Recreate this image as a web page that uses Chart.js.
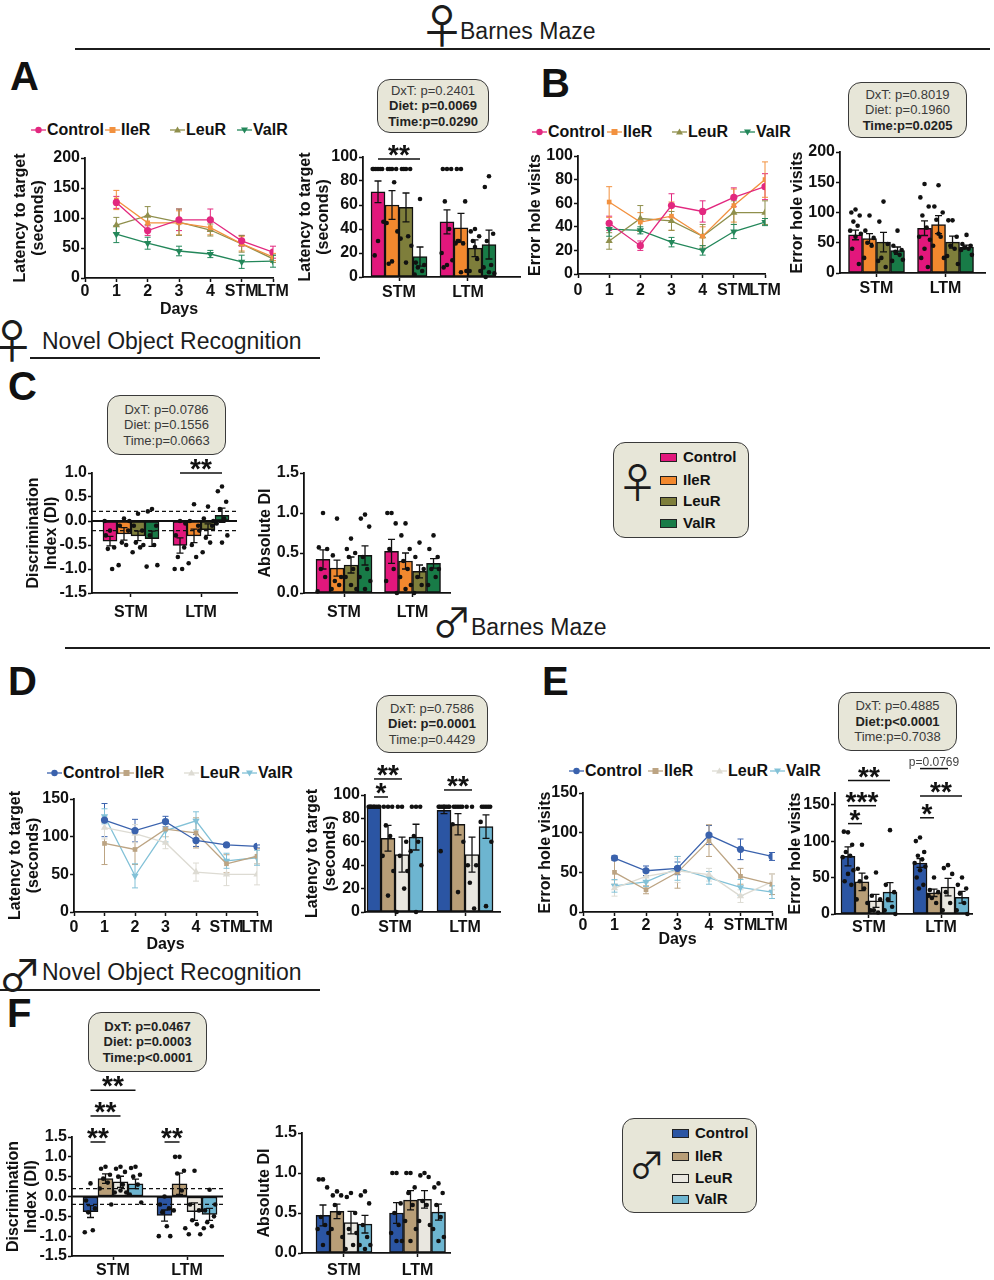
<!DOCTYPE html>
<html lang="en">
<head>
<meta charset="utf-8">
<title>Barnes maze and novel object recognition</title>
<script src="https://cdn.jsdelivr.net/npm/chart.js@4.4.1/dist/chart.umd.min.js"></script>
<style>
  html, body { margin:0; padding:0; background:#fff; }
  body { position:relative; width:994px; height:1280px; overflow:hidden; font-family:'Liberation Sans', Arial, Helvetica, sans-serif; color:#111; }
  canvas { position:absolute; }
  .letter { position:absolute; font-size:40px; font-weight:bold; line-height:40px; color:#111; }
  .hdr { position:absolute; font-size:23px; line-height:23px; white-space:nowrap; color:#1c1c1c; }
  .rule { position:absolute; background:#1c1c1c; }
  .sym { position:absolute; font-family:'Noto Sans CJK JP','DejaVu Sans',sans-serif; line-height:1; color:#1c1c1c; }
  .stat { position:absolute; box-sizing:border-box; border:1.6px solid #3a3a3a; border-radius:13px; background:#e7e6d8; display:flex; flex-direction:column; justify-content:center; align-items:center; font-size:13px; line-height:15.5px; color:#3a3a3a; white-space:nowrap; }
  .stat .b { font-weight:bold; color:#222; }
  .legbox { position:absolute; box-sizing:border-box; border:1.6px solid #3a3a3a; border-radius:12px; background:#e7e6d8; }
  .sw { position:absolute; width:17px; height:9px; border:1.4px solid #222; box-sizing:border-box; }
  .lt { position:absolute; font-size:15px; font-weight:bold; line-height:18px; white-space:nowrap; color:#111; }
  .li { position:absolute; font-size:16px; font-weight:bold; line-height:18px; white-space:nowrap; color:#111; }
  .li svg { position:absolute; }
</style>
</head>
<body>

<!-- section headers -->
<span class="sym" style="left:419px;top:0px;font-size:46px;">♀</span>
<span class="hdr" style="left:460px;top:20px;">Barnes Maze</span>
<div class="rule" style="left:75px;top:48px;width:915px;height:2px;"></div>

<span class="sym" style="left:-11px;top:315px;font-size:46px;">♀</span>
<span class="hdr" style="left:42px;top:330px;">Novel Object Recognition</span>
<div class="rule" style="left:30px;top:357px;width:290px;height:1.5px;"></div>

<span class="sym" style="left:432px;top:600px;font-size:40px;">♂</span>
<span class="hdr" style="left:471px;top:616px;">Barnes Maze</span>
<div class="rule" style="left:65px;top:647px;width:925px;height:2px;"></div>

<span class="sym" style="left:-2px;top:951px;font-size:44px;">♂</span>
<span class="hdr" style="left:42px;top:961px;">Novel Object Recognition</span>
<div class="rule" style="left:0px;top:989px;width:320px;height:1.5px;"></div>

<!-- panel letters -->
<div class="letter" style="left:10px;top:56px;">A</div>
<div class="letter" style="left:541px;top:63px;">B</div>
<div class="letter" style="left:8px;top:366px;">C</div>
<div class="letter" style="left:8px;top:661px;">D</div>
<div class="letter" style="left:542px;top:661px;">E</div>
<div class="letter" style="left:7px;top:993px;">F</div>

<!-- statistics boxes -->
<div class="stat" style="left:377px;top:79px;width:112px;height:54px;"><span>DxT: p=0.2401</span><span class="b">Diet: p=0.0069</span><span class="b">Time:p=0.0290</span></div>
<div class="stat" style="left:848px;top:82px;width:119px;height:56px;"><span>DxT: p=0.8019</span><span>Diet: p=0.1960</span><span class="b">Time:p=0.0205</span></div>
<div class="stat" style="left:107px;top:395px;width:119px;height:60px;"><span>DxT: p=0.0786</span><span>Diet: p=0.1556</span><span>Time:p=0.0663</span></div>
<div class="stat" style="left:376px;top:695px;width:112px;height:58px;"><span>DxT: p=0.7586</span><span class="b">Diet: p=0.0001</span><span>Time:p=0.4429</span></div>
<div class="stat" style="left:838px;top:692px;width:119px;height:59px;"><span>DxT: p=0.4885</span><span class="b">Diet:p&lt;0.0001</span><span>Time:p=0.7038</span></div>
<div class="stat" style="left:88px;top:1012px;width:119px;height:60px;"><span class="b">DxT: p=0.0467</span><span class="b">Diet: p=0.0003</span><span class="b">Time:p&lt;0.0001</span></div>

<!-- boxed legends -->
<div class="legbox" style="left:613px;top:442px;width:136px;height:96px;"></div>
<span class="sym" style="left:617px;top:460px;font-size:41px;">♀</span>
<div class="legbox" style="left:622px;top:1118px;width:135px;height:95px;"></div>
<span class="sym" style="left:629px;top:1145px;font-size:36px;">♂</span>

<script>
// ================= shared labels =================
const DIETS = ['Control', 'IleR', 'LeuR', 'ValR'];
const TESTS = ['STM', 'LTM'];
const DAY_LABELS = ['0', '1', '2', '3', '4', 'STM', 'LTM'];

// ================= colours =================
const FEMALE_BAR = ['#e2177c', '#f2882e', '#7e7e3b', '#187b47'];
const FEMALE_LINE = ['#e2287f', '#f2913f', '#8f8f4c', '#23875a'];
const MALE_BAR = ['#2b55a3', '#b89e77', '#e9e7e0', '#6db5d0'];
const MALE_LINE = ['#3a62ad', '#bca483', '#dddbd3', '#82c1d7'];

// ================= A: female Barnes maze, latency to target =================
// rows: Control, IleR, LeuR, ValR ; columns: day 1, 2, 3, 4, STM, LTM
const A_day_mean = [[126, 79, 97, 97, 62, 43], [130, 92, 92, 84, 57, 35], [88, 104, 93, 80, 57, 32], [73, 58, 45, 40, 27, 28]];
const A_day_sem  = [[10, 8, 18, 18, 9, 10], [16, 12, 20, 12, 12, 6], [13, 15, 22, 10, 14, 6], [14, 10, 8, 6, 11, 10]];
// rows: diets ; columns: STM, LTM
const A_test_mean = [[71, 46], [60, 41], [58, 24], [17, 27]];
const A_test_sem  = [[9, 10], [12, 12], [12, 7], [8, 12]];
const A_test_dots = [
  [[90, 90, 90, 90, 90, 90, 46, 30, 18], [90, 90, 90, 63, 40, 20, 14, 10, 8]],
  [[90, 90, 90, 90, 79, 45, 38, 13, 11], [90, 90, 63, 30, 28, 28, 5, 4, 30]],
  [[90, 90, 90, 90, 34, 32, 26, 12], [40, 38, 34, 30, 15, 5, 5, 25]],
  [[65, 12, 10, 8, 5, 2], [84, 75, 36, 30, 10, 8, 3, 4, 0]]
];

// ================= B: female Barnes maze, error hole visits =================
const B_day_mean = [[43, 24, 58, 53, 65, 74], [61, 44, 49, 32, 58, 80], [28, 47, 45, 32, 52, 52], [38, 37, 27, 20, 36, 44]];
const B_day_sem  = [[6, 4, 10, 9, 8, 11], [13, 8, 12, 8, 14, 15], [7, 11, 8, 10, 10, 10], [6, 3, 4, 4, 6, 3]];
const B_test_mean = [[63, 74], [57, 80], [51, 51], [37, 43]];
const B_test_sem  = [[8, 12], [8, 15], [16, 10], [6, 3]];
const B_test_dots = [
  [[105, 100, 95, 85, 78, 70, 65, 60, 40, 15], [147, 125, 110, 95, 75, 60, 55, 40, 25, 10]],
  [[95, 70, 58, 50, 45, 25], [145, 110, 100, 88, 60, 45, 25, 65]],
  [[118, 85, 48, 25, 10, 20], [87, 87, 60, 45, 40, 28, 15]],
  [[70, 45, 38, 35, 30, 20, 22], [63, 48, 45, 42, 40, 38, 30]]
];

// ================= C: female novel object recognition =================
const C_di_mean = [[-0.42, -0.51], [-0.27, -0.31], [-0.31, -0.18], [-0.37, 0.12]];
const C_di_sem  = [[0.10, 0.16], [0.13, 0.14], [0.10, 0.12], [0.16, 0.15]];
const C_di_dots = [
  [[-0.2, -0.3, -0.55, -0.58, -1.0, 0.0], [0.0, -0.3, -0.55, -0.75, -1.0, -1.0, -0.05]],
  [[0.05, -0.1, -0.2, -0.45, -0.5, -0.92, 0.0], [0.35, 0.0, -0.1, -0.5, -0.75, -0.88, -0.2]],
  [[0.15, -0.1, -0.2, -0.45, -0.55, -0.65, -0.5], [0.3, 0.05, -0.1, -0.35, -0.45, -0.65, 0.0]],
  [[0.25, 0.2, -0.1, -0.3, -0.5, -0.95, -0.92], [0.72, 0.62, 0.4, 0.25, 0.05, -0.05, -0.3, -0.45]]
];
const C_abs_mean = [[0.42, 0.52], [0.31, 0.40], [0.35, 0.27], [0.47, 0.37]];
const C_abs_sem  = [[0.12, 0.15], [0.10, 0.10], [0.10, 0.08], [0.12, 0.06]];
const C_abs_dots = [
  [[1.0, 0.57, 0.55, 0.3, 0.2, 0.02], [1.0, 1.0, 0.87, 0.55, 0.3, 0.15, 0.0]],
  [[0.93, 0.47, 0.2, 0.15, 0.1, 0.05], [0.87, 0.72, 0.55, 0.4, 0.3, 0.2, 0.1, 0.05]],
  [[0.68, 0.55, 0.5, 0.45, 0.3, 0.2, 0.05, 0.1], [0.63, 0.45, 0.3, 0.2, 0.1, 0.0]],
  [[0.98, 0.93, 0.83, 0.45, 0.3, 0.2, 0.15, 0.05], [0.72, 0.55, 0.45, 0.3, 0.2, 0.1, 0.3]]
];

// ================= D: male Barnes maze, latency to target =================
const D_day_mean = [[122, 108, 120, 95, 89, 87], [91, 83, 110, 105, 64, 74], [112, 104, 92, 53, 50, 50], [127, 48, 108, 121, 68, 72]];
const D_day_sem  = [[22, 15, 7, 8, 2, 2], [28, 20, 10, 20, 12, 10], [15, 12, 8, 12, 15, 14], [10, 16, 15, 12, 10, 10]];
const D_test_mean = [[90, 87], [63, 75], [49, 49], [64, 73]];
const D_test_sem  = [[0, 3], [11, 9], [15, 15], [11, 10]];
const D_test_dots = [
  [[90, 90, 90, 90, 90, 90, 90, 90, 90], [90, 90, 90, 90, 90, 90, 90, 90, 52]],
  [[90, 90, 90, 74, 65, 48, 35, 14], [90, 90, 90, 90, 90, 75, 60, 17]],
  [[90, 90, 60, 48, 20, 0, 35], [90, 40, 40, 25, 3, 90]],
  [[90, 90, 90, 65, 60, 52, 40, 0], [90, 90, 90, 90, 90, 77, 60, 5]]
];

// ================= E: male Barnes maze, error hole visits =================
const E_day_mean = [[68, 52, 55, 97, 79, 70], [50, 28, 50, 90, 45, 35], [30, 45, 52, 47, 20, 38], [33, 38, 55, 43, 31, 25]];
const E_day_sem  = [[3, 6, 8, 12, 13, 5], [15, 5, 20, 20, 10, 13], [10, 8, 15, 8, 8, 10], [8, 6, 15, 8, 10, 8]];
const E_test_mean = [[79, 70], [44, 29], [18, 37], [30, 23]];
const E_test_sem  = [[13, 6], [12, 5], [9, 12], [13, 8]];
const E_test_dots = [
  [[112, 113, 95, 85, 80, 78, 60, 55, 45, 40], [105, 100, 85, 80, 75, 70, 65, 60, 50, 40, 35]],
  [[95, 62, 50, 45, 35, 20, 15], [50, 33, 30, 22, 15, 25]],
  [[57, 25, 20, 5, 2, 5], [67, 63, 55, 30, 15, 5]],
  [[115, 40, 30, 20, 10, 5, 0], [50, 40, 35, 28, 15, 5, 0]]
];

// ================= F: male novel object recognition =================
const F_di_mean = [[-0.38, -0.48], [0.45, 0.32], [0.37, -0.38], [0.32, -0.45]];
const F_di_sem  = [[0.15, 0.14], [0.12, 0.27], [0.14, 0.22], [0.12, 0.15]];
const F_di_dots = [
  [[0.33, -0.1, -0.3, -0.4, -0.85, -0.9], [0.0, -0.2, -0.3, -0.4, -0.75, -1.0, -1.0]],
  [[0.75, 0.7, 0.55, 0.45, 0.35, 0.2, -0.2], [1.0, 1.0, 0.65, 0.58, 0.15, -0.35, -0.8]],
  [[0.75, 0.7, 0.62, 0.5, 0.3, 0.1, 0.1, 0.15], [0.65, -0.2, -0.35, -0.6, -0.7, -0.95, -0.95]],
  [[0.75, 0.72, 0.55, 0.5, 0.3, 0.05, -0.15], [0.17, -0.35, -0.5, -0.65, -0.75, -0.8, -0.2]]
];
const F_abs_mean = [[0.47, 0.50], [0.52, 0.66], [0.38, 0.67], [0.36, 0.51]];
const F_abs_sem  = [[0.13, 0.13], [0.09, 0.12], [0.14, 0.11], [0.11, 0.10]];
const F_abs_dots = [
  [[0.92, 0.92, 0.82, 0.45, 0.35, 0.3, 0.25, 0.1], [1.0, 1.0, 0.62, 0.5, 0.35, 0.25, 0.15, 0.15]],
  [[0.77, 0.72, 0.72, 0.6, 0.5, 0.3, 0.2], [1.0, 1.0, 0.82, 0.75, 0.6, 0.4, 0.3, 0.15]],
  [[0.75, 0.7, 0.5, 0.3, 0.1, 0.05, 0.25], [1.0, 0.97, 0.95, 0.65, 0.6, 0.4, 0.35]],
  [[0.77, 0.72, 0.62, 0.35, 0.2, 0.1, 0.1, 0.05], [0.87, 0.82, 0.75, 0.6, 0.45, 0.3, 0.2, 0.15]]
];

// ================= tick values =================
const TICKS_0_200 = [0, 50, 100, 150, 200];
const TICKS_0_100 = [0, 20, 40, 60, 80, 100];
const TICKS_0_100_by20 = [0, 20, 40, 60, 80, 100];
const TICKS_DI_C = [-1.5, -1.0, -0.5, 0.0, 0.5, 1.0];
const TICKS_DI_F = [-1.5, -1.0, -0.5, 0.0, 0.5, 1.0, 1.5];
const TICKS_ABS = [0.0, 0.5, 1.0, 1.5];
const TICKS_ERR_B = [0, 50, 100, 150, 200];
const TICKS_150 = [0, 50, 100, 150];

// ================= rendering helpers =================
Chart.defaults.font.family = "'Liberation Sans', Arial, Helvetica, sans-serif";
Chart.defaults.font.size = 16;
Chart.defaults.font.weight = 'bold';
Chart.defaults.color = '#111';
Chart.defaults.animation = false;

const POINT_STYLES = ['circle', 'rect', 'triangle', 'triangle'];
const POINT_ROT = [0, 0, 0, 180];
const POINT_R = [3.6, 3.3, 4.2, 4.2];
const DOT_SPREAD = [0.5, 0.15, 0.85, 0.32, 0.68, 0.05, 0.95, 0.5, 0.22, 0.78, 0.4, 0.6];
const TITLE_FONT = { size: 16, weight: 'bold', lineHeight: 1.15 };

function makeCanvas(plot, yW, xH, padT, padR) {
  const left = plot[0] - yW, top = plot[1] - padT;
  const w = plot[2] + padR - left, h = plot[3] + xH - top;
  const c = document.createElement('canvas');
  c.width = w; c.height = h;
  c.style.left = left + 'px'; c.style.top = top + 'px';
  c.style.width = w + 'px'; c.style.height = h + 'px';
  document.body.appendChild(c);
  return c;
}
function grid() {
  return { display: true, drawOnChartArea: false, drawTicks: true, tickLength: 4, tickWidth: 1.5, tickColor: '#111', offset: false };
}
const BORDER = { display: true, color: '#111', width: 1.8 };

function yScale(o) {
  return {
    type: 'linear', position: 'left', min: o.min, max: o.max,
    afterBuildTicks: ax => { ax.ticks = o.ticks.map(v => ({ value: v })); },
    afterFit: ax => { ax.width = o.w; },
    ticks: { padding: 1, autoSkip: false, color: '#111', font: { size: 16, weight: 'bold' },
             callback: v => (o.dec ? Number(v).toFixed(1) : String(v)) },
    grid: grid(), border: BORDER,
    title: { display: true, text: o.title, font: TITLE_FONT, padding: 0, color: '#111' }
  };
}
function xScale(o) {
  return {
    type: 'linear', position: 'bottom', min: o.min, max: o.max, offset: false,
    afterBuildTicks: ax => { ax.ticks = o.ticks.map(v => ({ value: v })); },
    afterFit: ax => { ax.height = o.h; },
    ticks: { padding: o.pad, autoSkip: false, maxRotation: 0, minRotation: 0, color: '#111',
             font: { size: 16, weight: 'bold' }, callback: v => o.labels[Math.round(v) - o.first] },
    grid: grid(), border: BORDER,
    title: { display: !!o.title, text: o.title || '', font: TITLE_FONT, padding: 0, color: '#111' }
  };
}

const lineErrPlugin = {
  id: 'lineErr',
  beforeDatasetsDraw(chart) {
    const ctx = chart.ctx, ys = chart.scales.y;
    chart.data.datasets.forEach((ds, di) => {
      const meta = chart.getDatasetMeta(di);
      ctx.save();
      ctx.strokeStyle = ds.borderColor; ctx.lineWidth = 1;
      meta.data.forEach((pt, i) => {
        const m = ds.data[i].y, e = ds.sem[i];
        const y1 = ys.getPixelForValue(m + e), y2 = ys.getPixelForValue(m - e);
        ctx.beginPath();
        ctx.moveTo(pt.x, y1); ctx.lineTo(pt.x, y2);
        ctx.moveTo(pt.x - 3, y1); ctx.lineTo(pt.x + 3, y1);
        ctx.moveTo(pt.x - 3, y2); ctx.lineTo(pt.x + 3, y2);
        ctx.stroke();
      });
      ctx.restore();
    });
  }
};

function drawLineChart(p) {
  const c = makeCanvas(p.plot, p.yW, p.xH, 12, 30);
  const datasets = DIETS.map((name, d) => ({
    label: name,
    data: p.mean[d].map((v, i) => ({ x: i + 1, y: v })),
    sem: p.sem[d],
    borderColor: p.colors[d], backgroundColor: p.colors[d],
    borderWidth: 1.3, tension: 0, fill: false,
    pointStyle: POINT_STYLES[d], pointRotation: POINT_ROT[d], pointRadius: POINT_R[d], pointBorderWidth: 0
  }));
  new Chart(c, {
    type: 'line',
    data: { datasets },
    options: {
      responsive: false, animation: false, events: [],
      layout: { padding: { top: 12, right: 30, left: 0, bottom: 0 } },
      plugins: { legend: { display: false }, tooltip: { enabled: false } },
      scales: {
        x: xScale({ min: 0, max: 6, ticks: [0, 1, 2, 3, 4, 5, 6], labels: DAY_LABELS, first: 0, h: p.xH, pad: p.xPad, title: p.xTitle }),
        y: yScale({ min: 0, max: p.yMax, ticks: p.yTicks, w: p.yW, title: p.yTitle })
      }
    },
    plugins: [lineErrPlugin]
  });
}

function drawStars(ctx, cx, bottomY, n) {
  ctx.font = "bold 28px 'Liberation Sans', Arial, sans-serif";
  ctx.textAlign = 'center'; ctx.textBaseline = 'alphabetic'; ctx.fillStyle = '#111';
  const m = ctx.measureText('*');
  const base = bottomY - m.actualBoundingBoxDescent;
  for (let i = 0; i < n; i++) ctx.fillText('*', cx + (i - (n - 1) / 2) * 11, base);
}

function drawBarChart(p) {
  const c = makeCanvas(p.plot, p.yW, p.xH, p.padT, p.padR);
  const datasets = DIETS.map((name, d) => ({
    label: name,
    data: p.mean[d].map((v, g) => ({ x: g + 1, y: v })),
    sem: p.sem[d], dots: p.dots[d],
    backgroundColor: p.colors[d], borderColor: '#111', borderWidth: 1.5, borderSkipped: false,
    barThickness: p.barW
  }));
  const extras = {
    id: 'barExtras',
    afterDatasetsDraw(chart) {
      const ctx = chart.ctx, ys = chart.scales.y, area = chart.chartArea;
      ctx.save();
      chart.data.datasets.forEach((ds, d) => {
        chart.getDatasetMeta(d).data.forEach((bar, g) => {
          const w = bar.width;
          ctx.fillStyle = '#111';
          ds.dots[g].forEach((v, k) => {
            const x = bar.x + (DOT_SPREAD[k % DOT_SPREAD.length] - 0.5) * w * 0.85;
            ctx.beginPath(); ctx.arc(x, ys.getPixelForValue(v), 2.3, 0, Math.PI * 2); ctx.fill();
          });
          const m = ds.data[g].y, e = ds.sem[g];
          if (e > 0) {
            const y1 = ys.getPixelForValue(m + e), y2 = ys.getPixelForValue(m - e);
            ctx.strokeStyle = '#111'; ctx.lineWidth = 1.3;
            ctx.beginPath();
            ctx.moveTo(bar.x, y1); ctx.lineTo(bar.x, y2);
            ctx.moveTo(bar.x - 3.5, y1); ctx.lineTo(bar.x + 3.5, y1);
            ctx.moveTo(bar.x - 3.5, y2); ctx.lineTo(bar.x + 3.5, y2);
            ctx.stroke();
          }
        });
      });
      if (p.diLines) {
        const y0 = ys.getPixelForValue(0);
        ctx.strokeStyle = '#111'; ctx.lineWidth = 1.8; ctx.setLineDash([]);
        ctx.beginPath(); ctx.moveTo(area.left, y0); ctx.lineTo(area.right, y0); ctx.stroke();
        ctx.lineWidth = 1.3; ctx.setLineDash([4, 3]);
        [0.2, -0.2].forEach(v => {
          const y = ys.getPixelForValue(v);
          ctx.beginPath(); ctx.moveTo(area.left, y); ctx.lineTo(area.right, y); ctx.stroke();
        });
        ctx.setLineDash([]);
      }
      ctx.restore();
    },
    afterDraw(chart) {
      if (!p.sig) return;
      const ctx = chart.ctx, ys = chart.scales.y;
      ctx.save();
      p.sig.forEach(s => {
        const a = chart.getDatasetMeta(s.from).data[s.g], b = chart.getDatasetMeta(s.to).data[s.g];
        const y = ys.getPixelForValue(s.y);
        ctx.strokeStyle = '#111'; ctx.lineWidth = 1.5;
        ctx.beginPath(); ctx.moveTo(a.x, y); ctx.lineTo(b.x, y); ctx.stroke();
        const cx = (a.x + b.x) / 2;
        if (s.stars) drawStars(ctx, cx, y - 3, s.stars);
        else {
          ctx.font = "12px 'Liberation Sans', Arial, sans-serif";
          ctx.textAlign = 'center'; ctx.textBaseline = 'bottom'; ctx.fillStyle = '#444';
          ctx.fillText(s.text, cx, y);
        }
      });
      ctx.restore();
    }
  };
  new Chart(c, {
    type: 'bar',
    data: { datasets },
    options: {
      responsive: false, animation: false, events: [],
      layout: { padding: { top: p.padT, right: p.padR, left: 0, bottom: 0 } },
      plugins: { legend: { display: false }, tooltip: { enabled: false } },
      scales: {
        x: xScale({ min: p.xMin, max: p.xMax, ticks: [1, 2], labels: TESTS, first: 1, h: p.xH, pad: p.xPad }),
        y: yScale({ min: p.yMin, max: p.yMax, ticks: p.yTicks, w: p.yW, title: p.yTitle, dec: p.dec })
      }
    },
    plugins: [extras]
  });
}

function lineLegend(cy, xs, colors) {
  DIETS.forEach((name, d) => {
    const el = document.createElement('div');
    el.className = 'li';
    el.style.left = (xs[d] + 16) + 'px';
    el.style.top = (cy - 9) + 'px';
    el.textContent = name;
    document.body.appendChild(el);
    const ns = 'http://www.w3.org/2000/svg';
    const svg = document.createElementNS(ns, 'svg');
    svg.setAttribute('width', '15'); svg.setAttribute('height', '12');
    svg.style.position = 'absolute'; svg.style.left = xs[d] + 'px'; svg.style.top = (cy - 6) + 'px';
    const ln = document.createElementNS(ns, 'line');
    ln.setAttribute('x1', '0'); ln.setAttribute('x2', '15'); ln.setAttribute('y1', '6'); ln.setAttribute('y2', '6');
    ln.setAttribute('stroke', colors[d]); ln.setAttribute('stroke-width', '1.3');
    svg.appendChild(ln);
    let mk;
    if (d === 0) { mk = document.createElementNS(ns, 'circle'); mk.setAttribute('cx', '7.5'); mk.setAttribute('cy', '6'); mk.setAttribute('r', '3.2'); }
    else if (d === 1) { mk = document.createElementNS(ns, 'rect'); mk.setAttribute('x', '4.5'); mk.setAttribute('y', '3'); mk.setAttribute('width', '6'); mk.setAttribute('height', '6'); }
    else if (d === 2) { mk = document.createElementNS(ns, 'polygon'); mk.setAttribute('points', '7.5,2.5 11,8.5 4,8.5'); }
    else { mk = document.createElementNS(ns, 'polygon'); mk.setAttribute('points', '4,3.5 11,3.5 7.5,9.5'); }
    mk.setAttribute('fill', colors[d]);
    svg.appendChild(mk);
    document.body.appendChild(svg);
  });
}

function boxLegend(swLeft, textLeft, ys, colors) {
  DIETS.forEach((name, d) => {
    const sw = document.createElement('div');
    sw.className = 'sw';
    sw.style.left = swLeft + 'px'; sw.style.top = (ys[d] - 4.5) + 'px';
    sw.style.background = colors[d];
    document.body.appendChild(sw);
    const t = document.createElement('div');
    t.className = 'lt';
    t.style.left = textLeft + 'px'; t.style.top = (ys[d] - 9) + 'px';
    t.textContent = name;
    document.body.appendChild(t);
  });
}

// ================= build the figure =================
// A
lineLegend(130, [31, 105, 170, 237], FEMALE_LINE);
drawLineChart({ plot: [85, 158, 273, 278], yW: 74, xH: 41, xPad: 0, xTitle: 'Days',
  yMax: 200, yTicks: TICKS_0_200, yTitle: ['Latency to target', '(seconds)'],
  mean: A_day_mean, sem: A_day_sem, colors: FEMALE_LINE });
drawBarChart({ plot: [363, 157, 520, 277], yW: 67, xH: 30, xPad: 2, padT: 30, padR: 8,
  xMin: 0.478, xMax: 2.754, yMin: 0, yMax: 100, yTicks: TICKS_0_100, yTitle: ['Latency to target', '(seconds)'],
  mean: A_test_mean, sem: A_test_sem, dots: A_test_dots, colors: FEMALE_BAR, barW: 14,
  sig: [{ g: 0, from: 0, to: 3, y: 98.3, stars: 2 }] });

// B
lineLegend(132, [532, 607, 672, 740], FEMALE_LINE);
drawLineChart({ plot: [578, 156, 765, 274], yW: 52, xH: 25, xPad: 3,
  yMax: 100, yTicks: TICKS_0_100_by20, yTitle: 'Error hole visits',
  mean: B_day_mean, sem: B_day_sem, colors: FEMALE_LINE });
drawBarChart({ plot: [840, 152, 985, 273], yW: 52, xH: 30, xPad: 2, padT: 14, padR: 6,
  xMin: 0.471, xMax: 2.572, yMin: 0, yMax: 200, yTicks: TICKS_ERR_B, yTitle: 'Error hole visits',
  mean: B_test_mean, sem: B_test_sem, dots: B_test_dots, colors: FEMALE_BAR, barW: 14 });

// C
drawBarChart({ plot: [92, 473, 237, 593], yW: 68, xH: 32, xPad: 6, padT: 28, padR: 6,
  xMin: 0.443, xMax: 2.514, yMin: -1.5, yMax: 1.0, yTicks: TICKS_DI_C, dec: true, yTitle: ['Discrimination', 'Index (DI)'],
  mean: C_di_mean, sem: C_di_sem, dots: C_di_dots, colors: FEMALE_BAR, barW: 14, diLines: true,
  sig: [{ g: 1, from: 0, to: 3, y: 1.0, stars: 2 }] });
drawBarChart({ plot: [304, 473, 450, 593], yW: 48, xH: 32, xPad: 6, padT: 14, padR: 6,
  xMin: 0.416, xMax: 2.547, yMin: 0, yMax: 1.5, yTicks: TICKS_ABS, dec: true, yTitle: 'Absolute DI',
  mean: C_abs_mean, sem: C_abs_sem, dots: C_abs_dots, colors: FEMALE_BAR, barW: 14 });
boxLegend(660, 683, [457, 480, 501, 523], FEMALE_BAR);

// D
lineLegend(773, [47, 119, 184, 242], MALE_LINE);
drawLineChart({ plot: [74, 799, 257, 912], yW: 68, xH: 42, xPad: 2, xTitle: 'Days',
  yMax: 150, yTicks: TICKS_150, yTitle: ['Latency to target', '(seconds)'],
  mean: D_day_mean, sem: D_day_sem, colors: MALE_LINE });
drawBarChart({ plot: [365, 795, 500, 912], yW: 62, xH: 30, xPad: 2, padT: 32, padR: 6,
  xMin: 0.571, xMax: 2.5, yMin: 0, yMax: 100, yTicks: TICKS_0_100, yTitle: ['Latency to target', '(seconds)'],
  mean: D_test_mean, sem: D_test_sem, dots: D_test_dots, colors: MALE_BAR, barW: 14,
  sig: [{ g: 0, from: 0, to: 2, y: 113.7, stars: 2 }, { g: 0, from: 0, to: 1, y: 98.3, stars: 1 },
        { g: 1, from: 0, to: 2, y: 104.3, stars: 2 }] });

// E
lineLegend(771, [569, 648, 712, 770], MALE_LINE);
drawLineChart({ plot: [583, 793, 772, 912], yW: 47, xH: 37, xPad: 0, xTitle: 'Days',
  yMax: 150, yTicks: TICKS_150, yTitle: 'Error hole visits',
  mean: E_day_mean, sem: E_day_sem, colors: MALE_LINE });
drawBarChart({ plot: [835, 793, 972, 914], yW: 49, xH: 30, xPad: 0, padT: 46, padR: 10,
  xMin: 0.528, xMax: 2.43, yMin: 0, yMax: 166, yTicks: TICKS_150, yTitle: 'Error hole visits',
  mean: E_test_mean, sem: E_test_sem, dots: E_test_dots, colors: MALE_BAR, barW: 14,
  sig: [{ g: 0, from: 0, to: 3, y: 183, stars: 2 }, { g: 0, from: 0, to: 2, y: 148.6, stars: 3 },
        { g: 0, from: 0, to: 1, y: 124, stars: 1 }, { g: 1, from: 0, to: 2, y: 199.5, text: 'p=0.0769' },
        { g: 1, from: 0, to: 3, y: 162, stars: 2 }, { g: 1, from: 0, to: 1, y: 132, stars: 1 }] });

// F
drawBarChart({ plot: [72, 1137, 223, 1256], yW: 68, xH: 30, xPad: 1, padT: 66, padR: 6,
  xMin: 0.446, xMax: 2.486, yMin: -1.5, yMax: 1.5, yTicks: TICKS_DI_F, dec: true, yTitle: ['Discrimination', 'Index (DI)'],
  mean: F_di_mean, sem: F_di_sem, dots: F_di_dots, colors: MALE_BAR, barW: 15, diLines: true,
  sig: [{ g: 0, from: 0, to: 1, y: 1.374, stars: 2 }, { g: 0, from: 0, to: 2, y: 2.03, stars: 2 },
        { g: 0, from: 0, to: 3, y: 2.68, stars: 2 }, { g: 1, from: 0, to: 1, y: 1.374, stars: 2 }] });
drawBarChart({ plot: [302, 1133, 450, 1253], yW: 47, xH: 30, xPad: 4, padT: 14, padR: 6,
  xMin: 0.429, xMax: 2.442, yMin: 0, yMax: 1.5, yTicks: TICKS_ABS, dec: true, yTitle: 'Absolute DI',
  mean: F_abs_mean, sem: F_abs_sem, dots: F_abs_dots, colors: MALE_BAR, barW: 14 });
boxLegend(672, 695, [1133, 1156, 1178, 1199], MALE_BAR);
</script>
</body>
</html>
